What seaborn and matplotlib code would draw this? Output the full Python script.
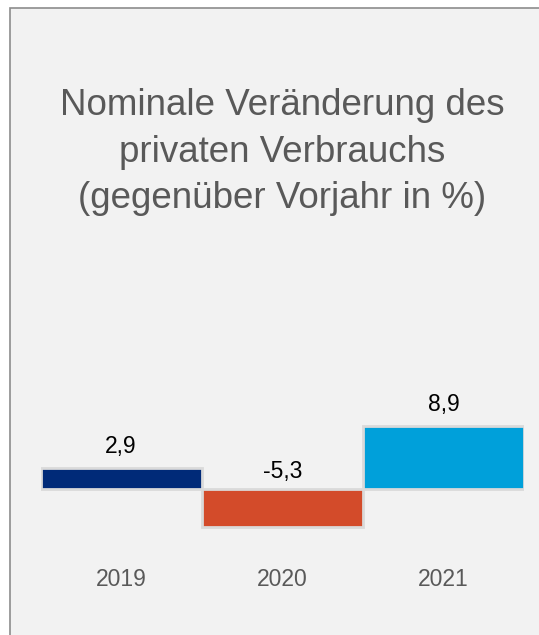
import matplotlib
matplotlib.use("Agg")
import matplotlib.pyplot as plt
from matplotlib.patches import Rectangle
import seaborn as sns
import pandas as pd

years = ["2019", "2020", "2021"]
values = [2.9, -5.3, 8.9]
colors = ["#002A78", "#D34B2A", "#00A0DA"]
title = "Nominale Veränderung des\nprivaten Verbrauchs\n(gegenüber Vorjahr in %)"

sns.set_theme(style="white")
plt.rcParams["font.family"] = ["Liberation Sans", "DejaVu Sans"]

W, H = 539, 635
fig = plt.figure(figsize=(W / 100, H / 100), dpi=100)
fig.patch.set_facecolor("white")

# panel background
fig.patches.append(Rectangle((10 / W, -0.05), 1.2, 1 - 8 / H + 0.05,
                             transform=fig.transFigure, facecolor="#F2F2F2",
                             edgecolor="#8C8C8C", linewidth=1.2, zorder=-5))

ax_left, ax_right = 40.5, 524
ax_top, ax_bottom = 300, 555
ax = fig.add_axes([ax_left / W, 1 - ax_bottom / H,
                   (ax_right - ax_left) / W, (ax_bottom - ax_top) / H])
ax.set_zorder(2)
ax.set_facecolor("none")

df = pd.DataFrame({"year": years, "value": values})
sns.barplot(data=df, x="year", y="value", hue="year", palette=colors,
            width=1.0, edgecolor="#DADADA", linewidth=2, legend=False,
            saturation=1, ax=ax)

scale = 7.1
ax.set_ylim(-(ax_bottom - 489) / scale, (489 - ax_top) / scale)
ax.set_xlim(-0.5, 2.5)

for i, v in enumerate(values):
    lab = f"{v:.1f}".replace(".", ",")
    if v >= 0:
        ax.annotate(lab, (i, v), xytext=(0, 11.0), textcoords="offset points",
                    ha="center", va="baseline", fontsize=16.5, color="#000000")
    else:
        ax.annotate(lab, (i, 0), xytext=(0, 8.0), textcoords="offset points",
                    ha="center", va="baseline", fontsize=16.5, color="#000000")

for s in ax.spines.values():
    s.set_visible(False)
ax.set_yticks([])
ax.set_xlabel("")
ax.set_ylabel("")
ax.tick_params(axis="x", length=0, pad=9.5, labelsize=16.5, labelcolor="#595959")

t = fig.text((ax_left + ax_right) / 2 / W, 1 - 208 / H, title, ha="center",
             va="baseline", fontsize=26.5, color="#595959", linespacing=1.42)
t.set_zorder(3)

fig.savefig("out.png", dpi=100, facecolor=fig.get_facecolor())
